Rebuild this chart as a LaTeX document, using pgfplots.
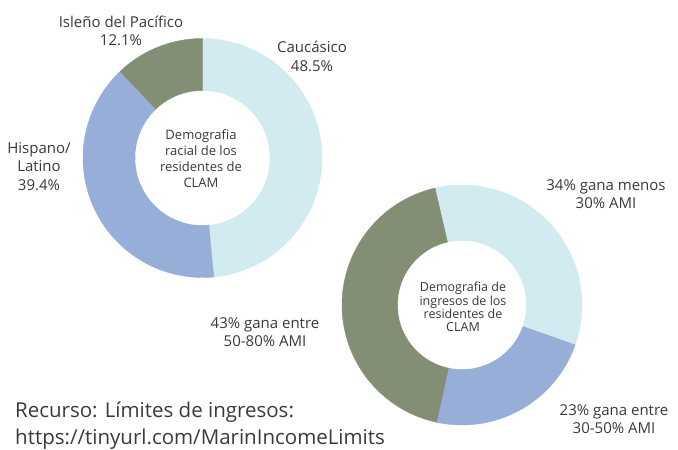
\documentclass[border=0pt]{standalone}
\usepackage{pgfplots}
\pgfplotsset{compat=1.18}
\usepackage{fontspec}
\setmainfont{Open Sans}
\definecolor{cLight}{RGB}{210,235,240}
\definecolor{cBlue}{RGB}{151,174,216}
\definecolor{cGreen}{RGB}{131,143,116}
\definecolor{txt}{RGB}{58,58,58}
\begin{document}
\begin{tikzpicture}
% donut 1 values (percent)
\pgfmathsetmacro{\Aa}{90}
\pgfmathsetmacro{\Ab}{\Aa-48.5*3.6}
\pgfmathsetmacro{\Ac}{\Ab-39.4*3.6}
\pgfmathsetmacro{\Ad}{\Ac-12.1*3.6}
% donut 2 values (percent)
\pgfmathsetmacro{\Ba}{103}
\pgfmathsetmacro{\Bb}{\Ba-34*3.6}
\pgfmathsetmacro{\Bc}{\Bb-23*3.6}
\pgfmathsetmacro{\Bd}{\Bc-43*3.6}
\begin{axis}[x=1pt,y=1pt,xmin=0,xmax=678,ymin=0,ymax=449,hide axis,clip=false,
  samples=80, every axis plot/.append style={line width=0.4pt}]
\path (axis cs:0,0) rectangle (axis cs:678,449);
% donut 1: center (202.5,291), R=119.5, r=67
\addplot[fill=cLight,draw=cLight,domain=\Ab:\Aa,variable=\t] ({202.5+119.5*cos(\t)},{291+119.5*sin(\t)}) -- (axis cs:202.5,291) -- cycle;
\addplot[fill=cBlue,draw=cBlue,domain=\Ac:\Ab,variable=\t] ({202.5+119.5*cos(\t)},{291+119.5*sin(\t)}) -- (axis cs:202.5,291) -- cycle;
\addplot[fill=cGreen,draw=cGreen,domain=\Ad:\Ac,variable=\t] ({202.5+119.5*cos(\t)},{291+119.5*sin(\t)}) -- (axis cs:202.5,291) -- cycle;
\addplot[fill=white,draw=white,domain=0:360,samples=120,variable=\t] ({202.5+67*cos(\t)},{291+67*sin(\t)}) -- cycle;
% donut 2: center (462,144), R=120, r=64
\addplot[fill=cLight,draw=cLight,domain=\Bb:\Ba,variable=\t] ({462+120*cos(\t)},{144+120*sin(\t)}) -- (axis cs:462,144) -- cycle;
\addplot[fill=cBlue,draw=cBlue,domain=\Bc:\Bb,variable=\t] ({462+120*cos(\t)},{144+120*sin(\t)}) -- (axis cs:462,144) -- cycle;
\addplot[fill=cGreen,draw=cGreen,domain=\Bd:\Bc,variable=\t] ({462+120*cos(\t)},{144+120*sin(\t)}) -- (axis cs:462,144) -- cycle;
\addplot[fill=white,draw=white,domain=0:360,samples=120,variable=\t] ({462+64*cos(\t)},{144+64*sin(\t)}) -- cycle;
% labels
\begin{scope}[every node/.style={text=txt,align=center,inner sep=0pt}]
\node[font=\fontsize{15}{18.5}\selectfont] at (axis cs:121,418) {Isleño del Pacífico\\12.1\%};
\node[font=\fontsize{15}{18.5}\selectfont] at (axis cs:312,392.5) {Caucásico\\48.5\%};
\node[font=\fontsize{15}{18.5}\selectfont] at (axis cs:39,282.5) {Hispano/\\Latino\\39.4\%};
\node[font=\fontsize{13}{16}\selectfont] at (axis cs:201,290) {Demografia\\racial de los\\residentes de\\CLAM};
\node[font=\fontsize{15}{18}\selectfont] at (axis cs:606,254.5) {34\% gana menos\\30\% AMI};
\node[font=\fontsize{15}{18}\selectfont] at (axis cs:265,117) {43\% gana entre\\50-80\% AMI};
\node[font=\fontsize{15}{18}\selectfont] at (axis cs:614,30) {23\% gana entre\\30-50\% AMI};
\node[font=\fontsize{12.5}{13.2}\selectfont] at (axis cs:463,142) {Demografia de\\ingresos de los\\residentes de\\CLAM};
\node[font=\fontsize{20.5}{27}\selectfont,align=left,anchor=west] at (axis cs:15,23) {Recurso: Límites de ingresos:\\https://tinyurl.com/MarinIncomeLimits};
\end{scope}
\end{axis}
\end{tikzpicture}
\end{document}
